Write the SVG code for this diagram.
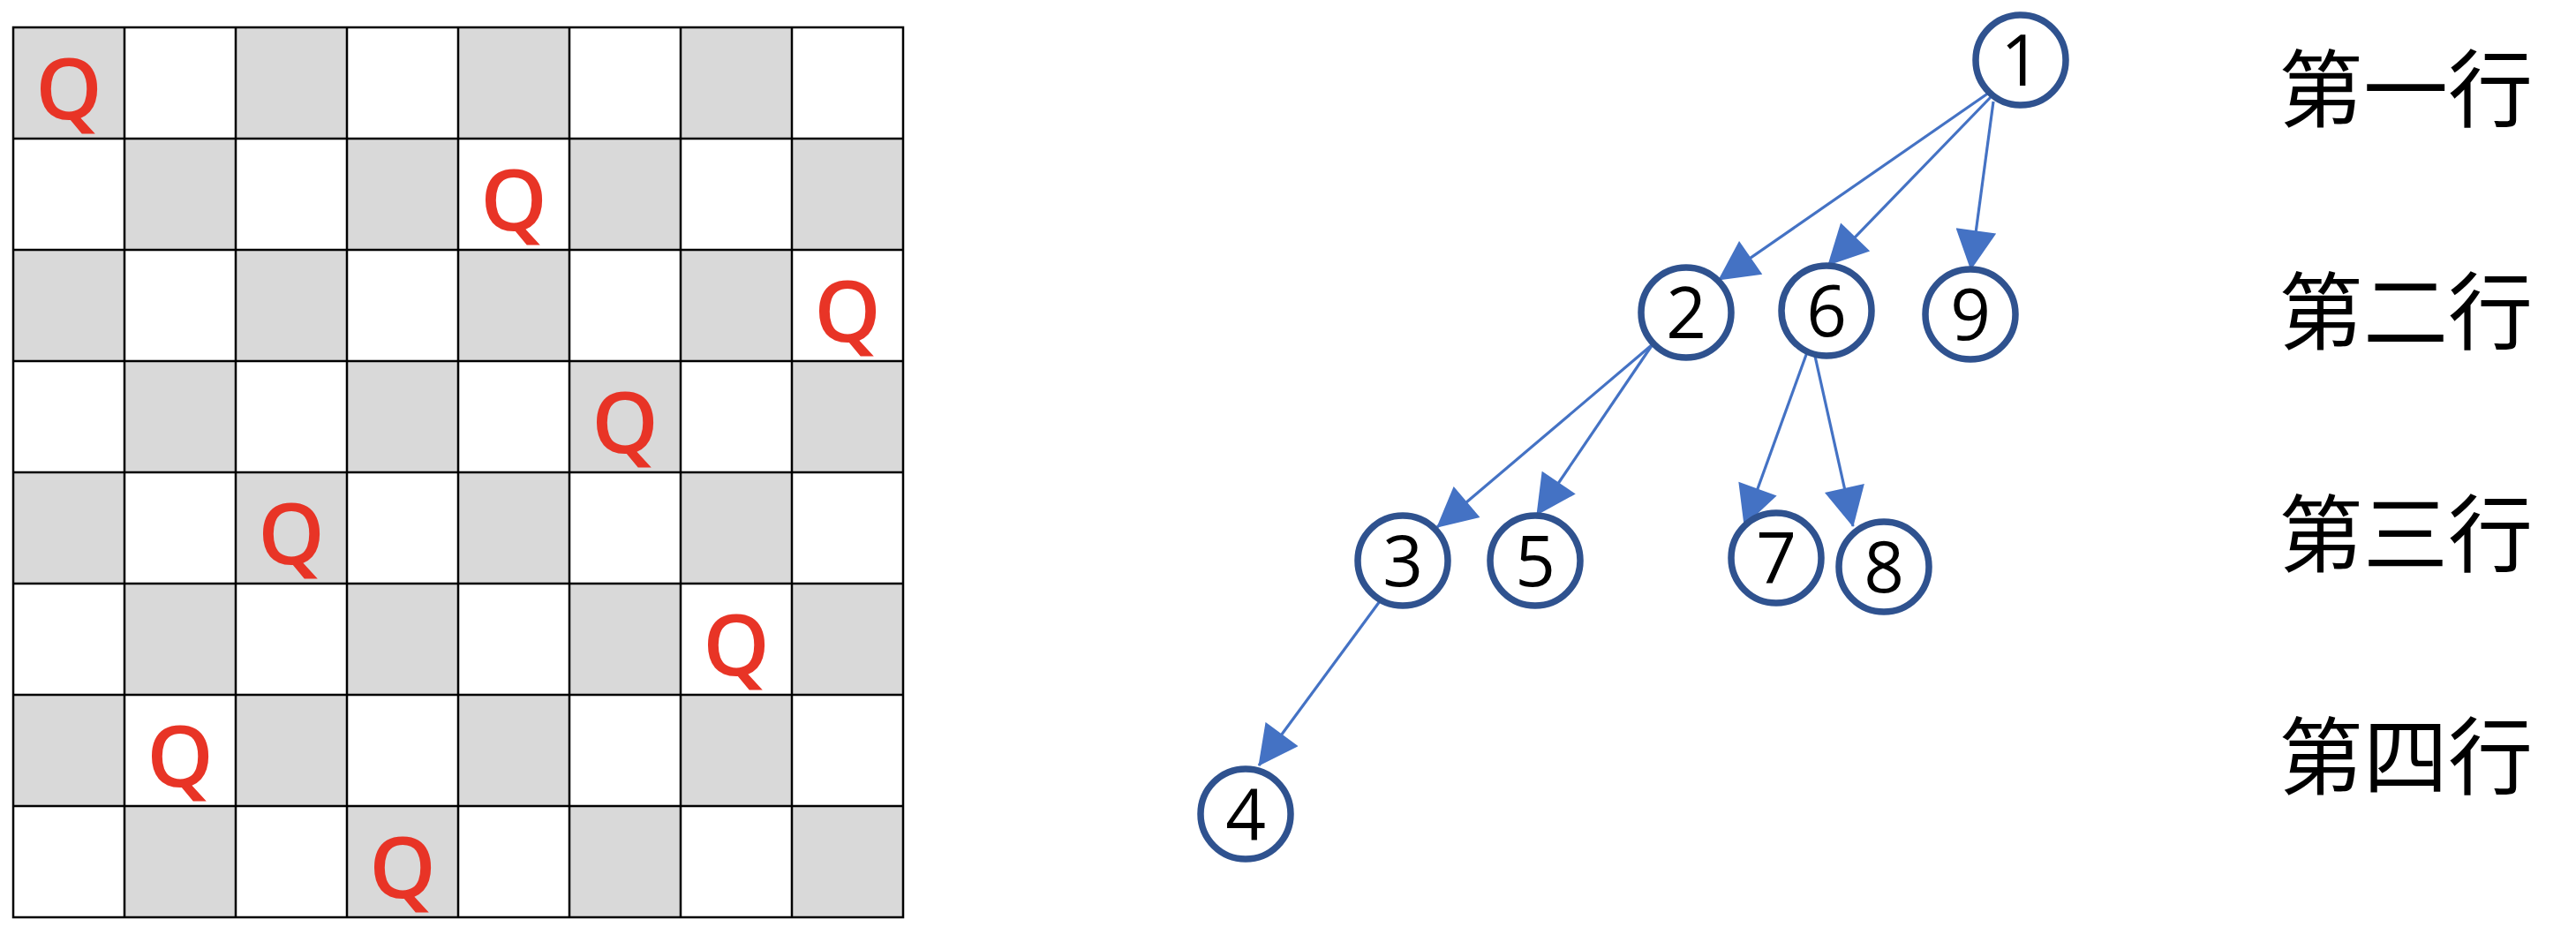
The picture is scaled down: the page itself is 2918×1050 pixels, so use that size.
<svg xmlns="http://www.w3.org/2000/svg" width="2918" height="1050" viewBox="0 0 2918 1050">
<style>
.g{fill:#d9d9d9}
.grid{fill:none;stroke:#000;stroke-width:2.5}
.q{font-family:"Open Sans","Liberation Sans",sans-serif;font-size:96px;font-weight:600;fill:#e83426;text-anchor:middle}
.n circle{fill:#fff;stroke:#2f528f;stroke-width:7.5}
.n text{font-family:"Open Sans","Liberation Sans",sans-serif;font-size:80px;fill:#000;text-anchor:middle}
.e line{stroke:#4472c4;stroke-width:3.2;marker-end:url(#ah)}
.lbl{font-family:"Noto Sans CJK SC","Noto Sans CJK JP",sans-serif;font-size:96px;fill:#000;text-anchor:middle}
</style>
<defs>
<marker id="ah" markerUnits="userSpaceOnUse" markerWidth="46" markerHeight="46" viewBox="0 0 45 46" refX="44" refY="23" orient="auto">
<path d="M0,0 L45,23 L0,46 Z" fill="#4472c4"/>
</marker>
</defs>
<rect width="2918" height="1050" fill="#fff"/>
<g id="board">
<rect class="g" x="15" y="31" width="126" height="126"/><rect class="g" x="267" y="31" width="126" height="126"/><rect class="g" x="519" y="31" width="126" height="126"/><rect class="g" x="771" y="31" width="126" height="126"/>
<rect class="g" x="141" y="157" width="126" height="126"/><rect class="g" x="393" y="157" width="126" height="126"/><rect class="g" x="645" y="157" width="126" height="126"/><rect class="g" x="897" y="157" width="126" height="126"/>
<rect class="g" x="15" y="283" width="126" height="126"/><rect class="g" x="267" y="283" width="126" height="126"/><rect class="g" x="519" y="283" width="126" height="126"/><rect class="g" x="771" y="283" width="126" height="126"/>
<rect class="g" x="141" y="409" width="126" height="126"/><rect class="g" x="393" y="409" width="126" height="126"/><rect class="g" x="645" y="409" width="126" height="126"/><rect class="g" x="897" y="409" width="126" height="126"/>
<rect class="g" x="15" y="535" width="126" height="126"/><rect class="g" x="267" y="535" width="126" height="126"/><rect class="g" x="519" y="535" width="126" height="126"/><rect class="g" x="771" y="535" width="126" height="126"/>
<rect class="g" x="141" y="661" width="126" height="126"/><rect class="g" x="393" y="661" width="126" height="126"/><rect class="g" x="645" y="661" width="126" height="126"/><rect class="g" x="897" y="661" width="126" height="126"/>
<rect class="g" x="15" y="787" width="126" height="126"/><rect class="g" x="267" y="787" width="126" height="126"/><rect class="g" x="519" y="787" width="126" height="126"/><rect class="g" x="771" y="787" width="126" height="126"/>
<rect class="g" x="141" y="913" width="126" height="126"/><rect class="g" x="393" y="913" width="126" height="126"/><rect class="g" x="645" y="913" width="126" height="126"/><rect class="g" x="897" y="913" width="126" height="126"/>
<path class="grid" d="M15,31H1023V1039H15Z M141,31V1039 M267,31V1039 M393,31V1039 M519,31V1039 M645,31V1039 M771,31V1039 M897,31V1039 M15,157H1023 M15,283H1023 M15,409H1023 M15,535H1023 M15,661H1023 M15,787H1023 M15,913H1023"/>
<text class="q" x="78" y="135">Q</text>
<text class="q" x="582" y="261">Q</text>
<text class="q" x="960" y="387">Q</text>
<text class="q" x="708" y="513">Q</text>
<text class="q" x="330" y="639">Q</text>
<text class="q" x="834" y="765">Q</text>
<text class="q" x="204" y="891">Q</text>
<text class="q" x="456" y="1017">Q</text>
</g>
<g id="connectors" class="e">
<line x1="2253" y1="105" x2="1947" y2="317"/>
<line x1="2255" y1="110" x2="2071" y2="300"/>
<line x1="2258" y1="115" x2="2232.5" y2="305"/>
<line x1="1872" y1="390" x2="1628" y2="597"/>
<line x1="1872" y1="390" x2="1741" y2="583"/>
<line x1="2047" y1="399" x2="1976" y2="595"/>
<line x1="2055" y1="399" x2="2099" y2="596"/>
<line x1="1563" y1="681" x2="1426" y2="867"/>
</g>
<g id="n1" class="n"><circle cx="2289" cy="68" r="51"/><text x="2289" y="96.5">1</text></g>
<g id="n2" class="n"><circle cx="1910" cy="354" r="51"/><text x="1910" y="382.5">2</text></g>
<g id="n6" class="n"><circle cx="2069" cy="352" r="51"/><text x="2069" y="380.5">6</text></g>
<g id="n9" class="n"><circle cx="2232" cy="356" r="51"/><text x="2232" y="384.5">9</text></g>
<g id="n3" class="n"><circle cx="1589" cy="635" r="51"/><text x="1589" y="663.5">3</text></g>
<g id="n5" class="n"><circle cx="1739" cy="635" r="51"/><text x="1739" y="663.5">5</text></g>
<g id="n7" class="n"><circle cx="2012" cy="632" r="51"/><text x="2012" y="660.5">7</text></g>
<g id="n8" class="n"><circle cx="2134" cy="642" r="51"/><text x="2134" y="670.5">8</text></g>
<g id="n4" class="n"><circle cx="1411" cy="922" r="51"/><text x="1411" y="950.5">4</text></g>
<g id="labels">
<text class="lbl" x="2725" y="136">第一行</text>
<text class="lbl" x="2725" y="388">第二行</text>
<text class="lbl" x="2725" y="640">第三行</text>
<text class="lbl" x="2725" y="892">第四行</text>
</g>
</svg>
